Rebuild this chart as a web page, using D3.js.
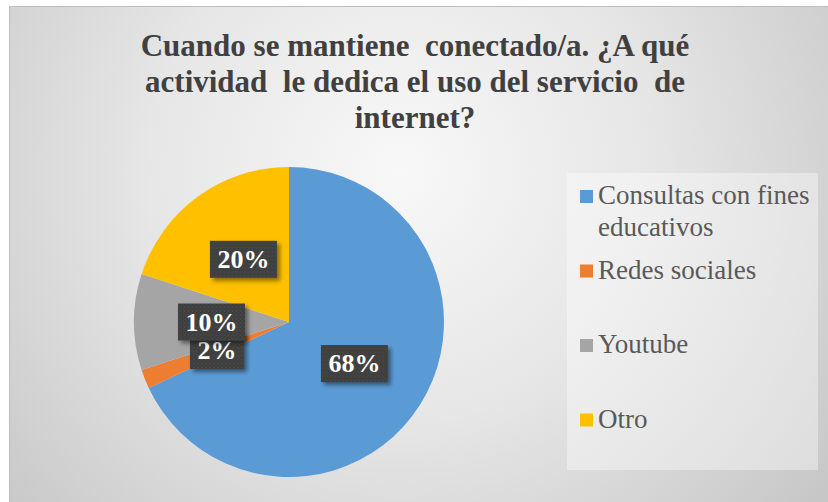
<!DOCTYPE html>
<html>
<head>
<meta charset="utf-8">
<script src="https://cdn.jsdelivr.net/npm/d3@7/dist/d3.min.js"></script>
</head>
<body style="margin:0">
<svg id="chart" width="828" height="502"></svg>
<script>
// Activity shares while connected to the internet
const categories = ["Consultas con fines educativos", "Redes sociales", "Youtube", "Otro"];
const values = [68, 2, 10, 20];
const colors = ["#5B9BD5", "#ED7D31", "#A5A5A5", "#FFC000"];
const titleLines = [
  "Cuando se mantiene  conectado/a. ¿A qué",
  "actividad  le dedica el uso del servicio  de",
  "internet?"
];

const W = 828, H = 502;
const FONT = '"Liberation Serif"';
const svg = d3.select("#chart");

function draw() {
  svg.selectAll("*").remove();
  const defs = svg.append("defs");

  // soft radial background
  const bg = defs.append("radialGradient")
    .attr("id", "bgGrad")
    .attr("gradientUnits", "userSpaceOnUse")
    .attr("cx", 400).attr("cy", 170).attr("r", 560);
  bg.append("stop").attr("offset", "0%").attr("stop-color", "#f8f8f8");
  bg.append("stop").attr("offset", "45%").attr("stop-color", "#e6e6e6");
  bg.append("stop").attr("offset", "100%").attr("stop-color", "#c4c4c4");

  // dotted dark fill for the value labels
  const pat = defs.append("pattern")
    .attr("id", "dots").attr("patternUnits", "userSpaceOnUse")
    .attr("width", 4).attr("height", 4);
  pat.append("rect").attr("width", 4).attr("height", 4).attr("fill", "#3e3e3e");
  pat.append("circle").attr("cx", 1).attr("cy", 1).attr("r", 0.7).attr("fill", "#565656");
  pat.append("circle").attr("cx", 3).attr("cy", 3).attr("r", 0.7).attr("fill", "#4c4c4c");

  const shadow = defs.append("filter").attr("id", "shadow")
    .attr("x", "-20%").attr("y", "-20%").attr("width", "150%").attr("height", "160%");
  shadow.append("feDropShadow")
    .attr("dx", 3).attr("dy", 3).attr("stdDeviation", 2)
    .attr("flood-color", "#000").attr("flood-opacity", 0.45);

  // chart area
  svg.append("rect")
    .attr("x", 9.5).attr("y", 6.5).attr("width", W - 9).attr("height", H - 6)
    .attr("fill", "url(#bgGrad)")
    .attr("stroke", "#bdbdbd").attr("stroke-width", 1);

  // title
  const title = svg.append("text")
    .attr("text-anchor", "middle")
    .style("font-family", FONT)
    .attr("font-weight", "bold")
    .attr("font-size", 31)
    .style("white-space", "pre")
    .attr("fill", "#404040");
  titleLines.forEach((line, i) => {
    title.append("tspan")
      .attr("x", 415).attr("y", 56 + i * 36)
      .text(line);
  });

  // pie
  const cx = 289, cy = 322, R = 155;
  const pie = d3.pie().sort(null).value(d => d);
  const arcs = pie(values);
  const arc = d3.arc().innerRadius(0).outerRadius(R);
  const total = d3.sum(values);
  const pct = d3.format(".0%");

  const g = svg.append("g").attr("transform", `translate(${cx},${cy})`);
  g.selectAll("path.slice")
    .data(arcs)
    .join("path")
    .attr("class", "slice")
    .attr("d", arc)
    .attr("fill", (d, i) => colors[i]);

  // value labels at the slice centroids
  const labels = g.selectAll("g.lbl")
    .data(arcs)
    .join("g")
    .attr("class", "lbl")
    .attr("transform", d => `translate(${arc.centroid(d)})`);

  labels.each(function (d) {
    const sel = d3.select(this);
    const rect = sel.append("rect");
    const t = sel.append("text")
      .attr("text-anchor", "middle")
      .attr("dy", "0.34em")
      .style("font-family", FONT)
      .attr("font-weight", "bold")
      .attr("font-size", 26)
      .attr("fill", "#ffffff")
      .text(pct(d.value / total));
    const w = t.node().getComputedTextLength() + 15;
    const h = 37;
    rect.attr("x", -w / 2).attr("y", -h / 2)
      .attr("width", w).attr("height", h)
      .attr("fill", "url(#dots)")
      .attr("filter", "url(#shadow)");
  });

  // legend
  const legX = 567, legY = 173, legW = 251, legH = 297;
  svg.append("rect")
    .attr("x", legX).attr("y", legY).attr("width", legW).attr("height", legH)
    .attr("fill", "#ffffff").attr("fill-opacity", 0.38);

  const textX = legX + 31;
  const maxTextW = legX + legW - textX - 2;
  const firstBaseline = 204;
  const entryStep = 74.5;
  const lineStep = 32;

  const legend = svg.append("g").attr("fill", "#595959");

  categories.forEach((name, i) => {
    const base = firstBaseline + i * entryStep;
    legend.append("rect")
      .attr("x", legX + 13).attr("y", base - 14)
      .attr("width", 13).attr("height", 13)
      .attr("fill", colors[i]);
    const t = legend.append("text")
      .attr("x", textX).attr("y", base)
      .style("font-family", FONT)
      .attr("font-size", 27);
    // wrap words into the legend's width
    const words = name.split(" ");
    let line = [];
    let tspan = t.append("tspan").attr("x", textX).attr("y", base);
    let lineNo = 0;
    words.forEach(wd => {
      line.push(wd);
      tspan.text(line.join(" "));
      if (tspan.node().getComputedTextLength() > maxTextW && line.length > 1) {
        line.pop();
        tspan.text(line.join(" "));
        line = [wd];
        lineNo += 1;
        tspan = t.append("tspan").attr("x", textX).attr("y", base + lineNo * lineStep).text(wd);
      }
    });
  });
}

draw();
// redraw once the serif faces are ready so text measurements use them
if (document.fonts) {
  Promise.all([
    document.fonts.load('bold 31px "Liberation Serif"'),
    document.fonts.load('27px "Liberation Serif"')
  ]).then(draw, draw);
}
</script>
</body>
</html>
